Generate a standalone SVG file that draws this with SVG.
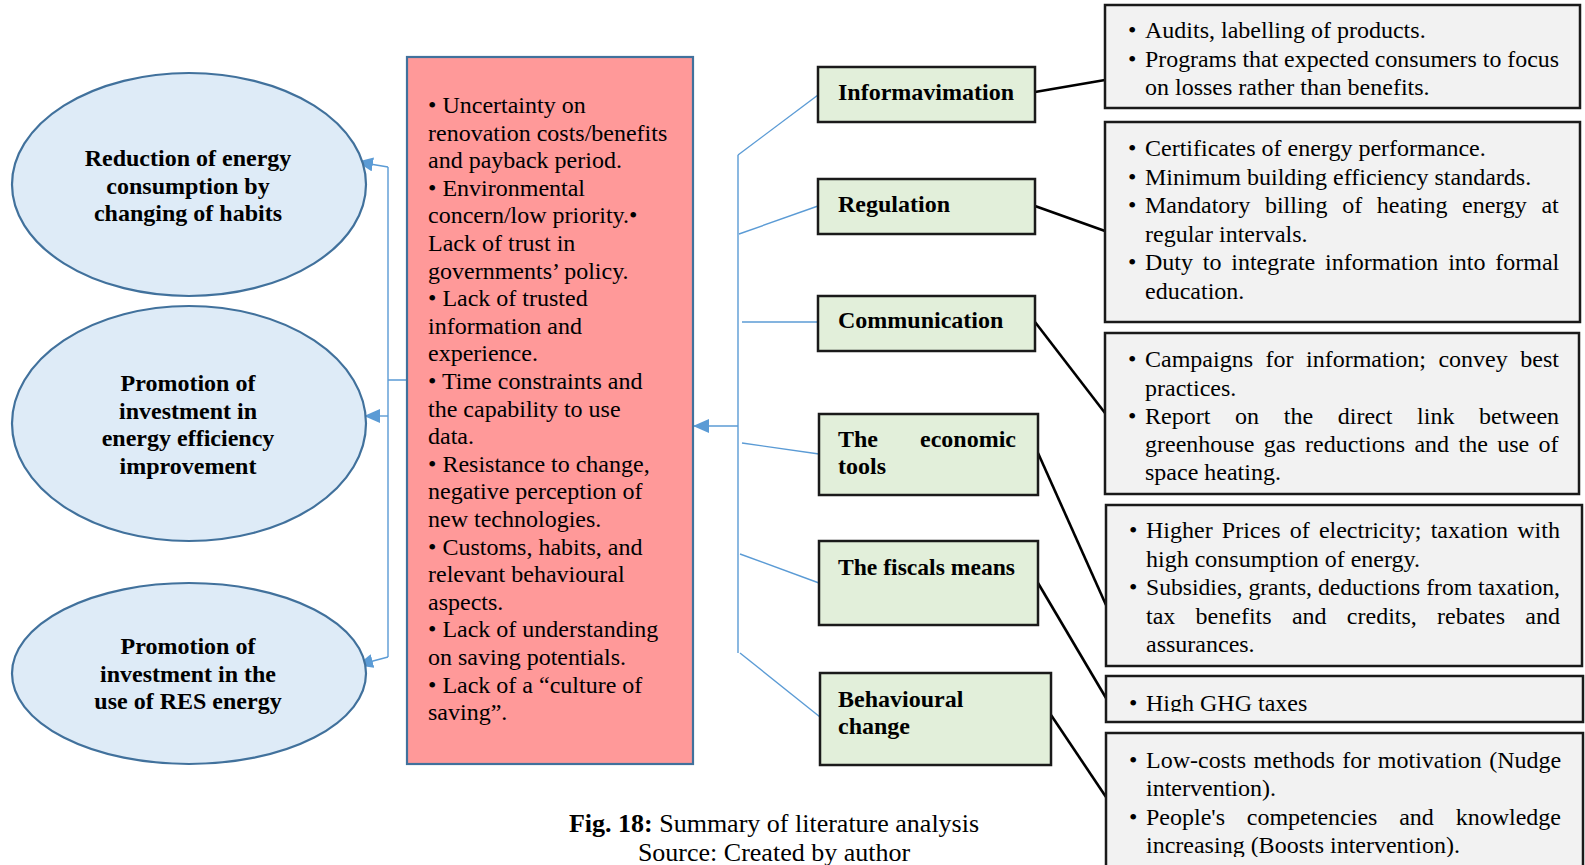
<svg xmlns="http://www.w3.org/2000/svg" width="1585" height="865" viewBox="0 0 1585 865">
<style>
.ell{fill:#DEEBF7;stroke:#41719C;stroke-width:2.2}
.red{fill:#FF9999;stroke:#41719C;stroke-width:2.2}
.grn{fill:#E2EFDA;stroke:#1a1a1a;stroke-width:2.5}
.gry{fill:#F2F2F2;stroke:#1a1a1a;stroke-width:2.5}
.blu{fill:none;stroke:#5B9BD5;stroke-width:1.4}
.blk{fill:none;stroke:#000;stroke-width:2.6}
text{font-family:"Liberation Serif","Times New Roman",serif;font-size:24px;fill:#000}
.b{font-weight:bold}
.c{text-anchor:middle}
</style>
<defs>
<marker id="ah" markerUnits="userSpaceOnUse" markerWidth="16" markerHeight="14" refX="15" refY="7" orient="auto">
<path d="M0,0 L16,7 L0,14 Z" fill="#5B9BD5"/>
</marker>
<clipPath id="clipE"><rect x="1106" y="675" width="476" height="37"/></clipPath>
<clipPath id="clipF"><rect x="1106" y="733" width="476" height="124"/></clipPath>
</defs>

<g id="connectors">
<path class="blu" d="M407,380 H388 M388,167 V657"/>
<path class="blu" d="M388,167 L358,162" marker-end="url(#ah)"/>
<path class="blu" d="M388,416 L365,416" marker-end="url(#ah)"/>
<path class="blu" d="M388,657 L358,665" marker-end="url(#ah)"/>
<path class="blu" d="M738,155 V653"/>
<path class="blu" d="M738,426 L694,426" marker-end="url(#ah)"/>
<path class="blu" d="M738,155 L818,95"/>
<path class="blu" d="M739,234 L818,206"/>
<path class="blu" d="M742,322 L818,322"/>
<path class="blu" d="M742,443 L819,454"/>
<path class="blu" d="M740,554 L819,583"/>
<path class="blu" d="M740,653 L820,717"/>
<path class="blk" d="M1035,92 L1105,80"/>
<path class="blk" d="M1035,206 L1105,231"/>
<path class="blk" d="M1035,322 L1105,413"/>
<path class="blk" d="M1038,453 L1106,605"/>
<path class="blk" d="M1038,583 L1106,698"/>
<path class="blk" d="M1051,715 L1106,797"/>
</g>

<g id="goal1">
<ellipse class="ell" cx="189" cy="184.5" rx="177" ry="111.5"/>
<text class="b c" x="188" y="166">Reduction of energy</text>
<text class="b c" x="188" y="193.5">consumption by</text>
<text class="b c" x="188" y="221">changing of habits</text>
</g>
<g id="goal2">
<ellipse class="ell" cx="189" cy="423.5" rx="177" ry="117.5"/>
<text class="b c" x="188" y="391">Promotion of</text>
<text class="b c" x="188" y="418.5">investment in</text>
<text class="b c" x="188" y="446">energy efficiency</text>
<text class="b c" x="188" y="474">improvement</text>
</g>
<g id="goal3">
<ellipse class="ell" cx="189" cy="673.5" rx="177" ry="90.5"/>
<text class="b c" x="188" y="654">Promotion of</text>
<text class="b c" x="188" y="682">investment in the</text>
<text class="b c" x="188" y="709">use of RES energy</text>
</g>

<g id="barriers">
<rect class="red" x="407" y="57" width="286" height="707"/>
<text x="428" y="113">• Uncertainty on</text>
<text x="428" y="140.6">renovation costs/benefits</text>
<text x="428" y="168.2">and payback period.</text>
<text x="428" y="195.8">•  Environmental</text>
<text x="428" y="223.4">concern/low priority.•</text>
<text x="428" y="251">Lack of trust in</text>
<text x="428" y="278.6">governments’ policy.</text>
<text x="428" y="306.2">• Lack of trusted</text>
<text x="428" y="333.8">information and</text>
<text x="428" y="361.4">experience.</text>
<text x="428" y="389">• Time constraints and</text>
<text x="428" y="416.6">the capability to use</text>
<text x="428" y="444.2">data.</text>
<text x="428" y="471.8">• Resistance to change,</text>
<text x="428" y="499.4">negative perception of</text>
<text x="428" y="527">new technologies.</text>
<text x="428" y="554.6">• Customs, habits, and</text>
<text x="428" y="582.2">relevant behavioural</text>
<text x="428" y="609.8">aspects.</text>
<text x="428" y="637.4">• Lack of understanding</text>
<text x="428" y="665">on saving potentials.</text>
<text x="428" y="692.6">• Lack of a “culture of</text>
<text x="428" y="720.2">saving”.</text>
</g>

<g id="tool-information">
<rect class="grn" x="818" y="67" width="217" height="55"/>
<text class="b" x="838" y="100">Informavimation</text>
</g>
<g id="tool-regulation">
<rect class="grn" x="818" y="179" width="217" height="55"/>
<text class="b" x="838" y="212">Regulation</text>
</g>
<g id="tool-communication">
<rect class="grn" x="818" y="296" width="217" height="55"/>
<text class="b" x="838" y="328">Communication</text>
</g>
<g id="tool-economic">
<rect class="grn" x="819" y="414" width="219" height="81"/>
<text class="b" x="838" y="447">The</text>
<text class="b" x="1016" y="447" text-anchor="end">economic</text>
<text class="b" x="838" y="474">tools</text>
</g>
<g id="tool-fiscal">
<rect class="grn" x="819" y="541" width="219" height="84"/>
<text class="b" x="838" y="575" textLength="177" lengthAdjust="spacingAndGlyphs">The fiscals means</text>
</g>
<g id="tool-behavioural">
<rect class="grn" x="820" y="673" width="231" height="92"/>
<text class="b" x="838" y="707">Behavioural</text>
<text class="b" x="838" y="734">change</text>
</g>

<g id="detail-information">
<rect class="gry" x="1105" y="5" width="475" height="103"/>
<text x="1128" y="38">•</text><text x="1145" y="38">Audits, labelling of products.</text>
<text x="1128" y="66.5">•</text><text x="1145" y="66.5" textLength="414" lengthAdjust="spacingAndGlyphs">Programs that expected consumers to focus</text>
<text x="1145" y="95">on losses rather than benefits.</text>
</g>
<g id="detail-regulation">
<rect class="gry" x="1105" y="122" width="475" height="200"/>
<text x="1128" y="156">•</text><text x="1145" y="156">Certificates of energy performance.</text>
<text x="1128" y="184.5">•</text><text x="1145" y="184.5">Minimum building efficiency standards.</text>
<text x="1128" y="213">•</text><text x="1145" y="213" style="word-spacing:8.6px">Mandatory billing of heating energy at</text>
<text x="1145" y="241.5">regular intervals.</text>
<text x="1128" y="270">•</text><text x="1145" y="270" style="word-spacing:3.8px">Duty to integrate information into formal</text>
<text x="1145" y="298.5">education.</text>
</g>
<g id="detail-communication">
<rect class="gry" x="1105" y="333" width="474" height="161"/>
<text x="1128" y="367">•</text><text x="1145" y="367" style="word-spacing:6.5px">Campaigns for information; convey best</text>
<text x="1145" y="395.5">practices.</text>
<text x="1128" y="424">•</text><text x="1145" y="424" style="word-spacing:18.7px">Report on the direct link between</text>
<text x="1145" y="452" style="word-spacing:3.4px">greenhouse gas reductions and the use of</text>
<text x="1145" y="480">space heating.</text>
</g>
<g id="detail-economic">
<rect class="gry" x="1106" y="505" width="476" height="161"/>
<text x="1129" y="538">•</text><text x="1146" y="538" style="word-spacing:3.2px">Higher Prices of electricity; taxation with</text>
<text x="1146" y="567">high consumption of energy.</text>
<text x="1129" y="595">•</text><text x="1146" y="595" textLength="414" lengthAdjust="spacingAndGlyphs">Subsidies, grants, deductions from taxation,</text>
<text x="1146" y="623.5" style="word-spacing:14.3px">tax benefits and credits, rebates and</text>
<text x="1146" y="652">assurances.</text>
</g>
<g id="detail-fiscal">
<rect class="gry" x="1106" y="676" width="477" height="46"/>
<g clip-path="url(#clipE)">
<text x="1129" y="711">•</text><text x="1146" y="711">High GHG taxes</text>
</g>
</g>
<g id="detail-behavioural">
<rect class="gry" x="1106" y="733" width="477" height="150"/>
<g clip-path="url(#clipF)">
<text x="1129" y="768">•</text><text x="1146" y="768" style="word-spacing:1.5px">Low-costs methods for motivation (Nudge</text>
<text x="1146" y="796">intervention).</text>
<text x="1129" y="825">•</text><text x="1146" y="825" style="word-spacing:15.8px">People's competencies and knowledge</text>
<text x="1146" y="853">increasing (Boosts intervention).</text>
</g>
</g>

<g id="caption">
<text class="c" x="774" y="832" style="font-size:26px"><tspan class="b">Fig. 18:</tspan> Summary of literature analysis</text>
<text class="c" x="774" y="861" style="font-size:26px">Source: Created by author</text>
</g>
</svg>
